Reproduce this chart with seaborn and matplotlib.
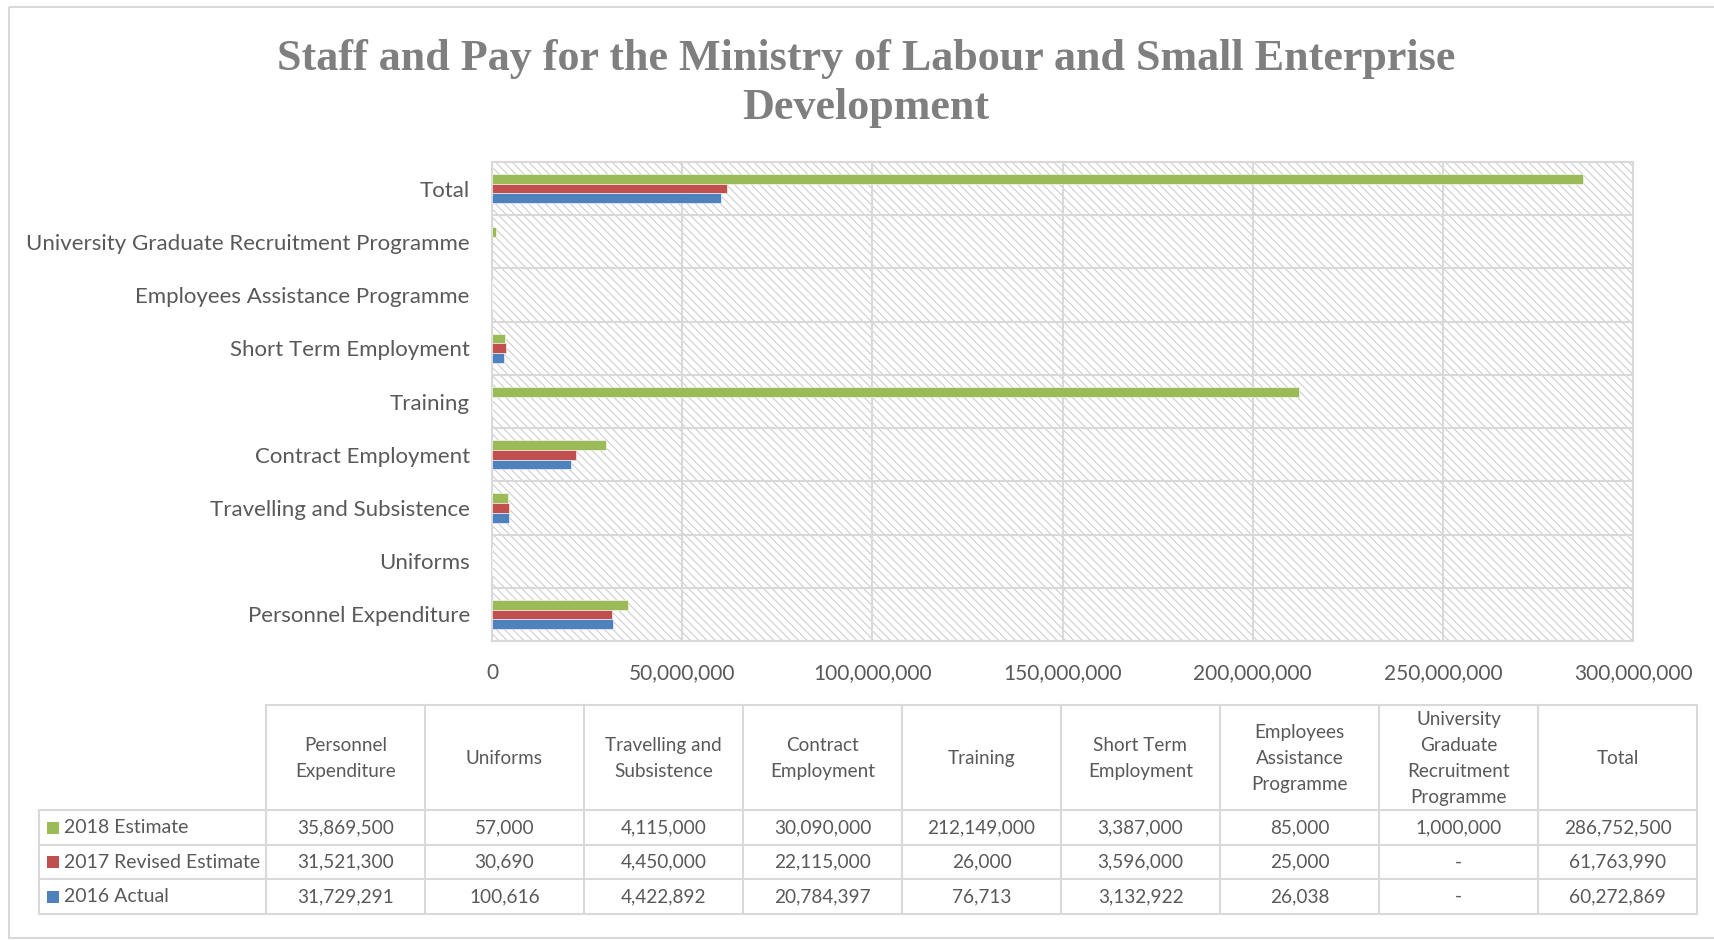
import numpy as np
import pandas as pd
import matplotlib
matplotlib.use("Agg")
import matplotlib.pyplot as plt
from matplotlib.patches import Rectangle
from matplotlib.ticker import FuncFormatter, FixedLocator
import seaborn as sns

# ---------------- data ----------------
categories = ["Personnel Expenditure", "Uniforms", "Travelling and Subsistence",
              "Contract Employment", "Training", "Short Term Employment",
              "Employees Assistance Programme",
              "University Graduate Recruitment Programme", "Total"]
table_headers = ["Personnel\nExpenditure", "Uniforms", "Travelling and\nSubsistence",
                 "Contract\nEmployment", "Training", "Short Term\nEmployment",
                 "Employees\nAssistance\nProgramme",
                 "University\nGraduate\nRecruitment\nProgramme", "Total"]
series = ["2018 Estimate", "2017 Revised Estimate", "2016 Actual"]
est_2018 = [35869500, 57000, 4115000, 30090000, 212149000, 3387000, 85000, 1000000, 286752500]
rev_2017 = [31521300, 30690, 4450000, 22115000, 26000, 3596000, 25000, np.nan, 61763990]
act_2016 = [31729291, 100616, 4422892, 20784397, 76713, 3132922, 26038, np.nan, 60272869]
colors = ["#9BBB59", "#C0504D", "#4F81BD"]
x_ticks = [0, 50000000, 100000000, 150000000, 200000000, 250000000, 300000000]
title_lines = ["Staff and Pay for the Ministry of Labour and Small Enterprise", "Development"]

values = [est_2018, rev_2017, act_2016]
rows = []
for s, vals in zip(series, values):
    for c, v in zip(categories, vals):
        rows.append({"category": c, "series": s, "value": v})
df = pd.DataFrame(rows)

# ---------------- figure ----------------
W, H = 1714, 940
sns.set_theme(style="white")
plt.rcParams["font.family"] = ["Lato", "DejaVu Sans"]
plt.rcParams["hatch.linewidth"] = 0.7
TXT = "#595959"
GRID = "#d9d9d9"

fig = plt.figure(figsize=(W / 100, H / 100), dpi=100)
fig.patch.set_facecolor("white")

# overlay in pixel coordinates for frame + data table
ax_t = fig.add_axes([0, 0, 1, 1])
ax_t.set_xlim(0, W)
ax_t.set_ylim(H, 0)
ax_t.axis("off")
ax_t.patch.set_alpha(0)

ax_t.add_patch(Rectangle((9, 7), W + 20, 931, fill=False, edgecolor=GRID, lw=1.5))

# main plot
L, R, T, B = 492, 1633, 162, 641
ax = fig.add_axes([L / W, 1 - B / H, (R - L) / W, (B - T) / H])
ax.add_patch(Rectangle((0, 0), 1, 1, transform=ax.transAxes, facecolor="white",
                       edgecolor="#c8c8c8", hatch="\\\\\\\\", lw=0, zorder=0))
sns.barplot(data=df, x="value", y="category", hue="series",
            order=categories[::-1], hue_order=series, palette=colors,
            width=0.55, saturation=1, legend=False, ax=ax, zorder=3,
            edgecolor="white", linewidth=0.4)

ax.set_xlim(0, 300000000)
ax.set_ylim(len(categories) - 0.5, -0.5)
ax.xaxis.set_major_locator(FixedLocator(x_ticks))
ax.xaxis.set_major_formatter(FuncFormatter(lambda v, p: f"{int(v):,}"))
ax.yaxis.set_minor_locator(FixedLocator(np.arange(-0.5, len(categories), 1.0)))
ax.grid(axis="x", which="major", color=GRID, lw=1.5, zorder=1)
ax.grid(axis="y", which="minor", color=GRID, lw=1.5, zorder=1)
ax.grid(axis="y", which="major", visible=False)
ax.set_axisbelow(True)
for sp in ax.spines.values():
    sp.set_color(GRID)
    sp.set_linewidth(1.5)
ax.set_xlabel("")
ax.set_ylabel("")
ax.tick_params(axis="both", which="both", length=0, colors=TXT)
ax.tick_params(axis="x", labelsize=15, pad=16)
ax.tick_params(axis="y", labelsize=16, pad=16)

# title
for i, line in enumerate(title_lines):
    fig.text(866 / W, 1 - (59 + 49 * i) / H, line, ha="center", va="center",
             fontsize=31.8, fontweight="bold", color="#7f7f7f",
             family=["Liberation Serif", "DejaVu Serif"])

# ---------------- data table ----------------
col_x0, col_w = 266, 159
lab_x0 = 39
hdr_top, hdr_bot = 705, 810
row_edges = [810, 845, 879, 914]
ncol = len(categories)
x_end = col_x0 + ncol * col_w

ax_t.plot([col_x0, x_end], [hdr_top, hdr_top], color=GRID, lw=1.5)
for y in row_edges:
    ax_t.plot([lab_x0, x_end], [y, y], color=GRID, lw=1.5)
ax_t.plot([lab_x0, lab_x0], [row_edges[0], row_edges[-1]], color=GRID, lw=1.5)
for k in range(ncol + 1):
    xx = col_x0 + k * col_w
    ax_t.plot([xx, xx], [hdr_top, row_edges[-1]], color=GRID, lw=1.5)

for k, hdr in enumerate(table_headers):
    ax_t.text(col_x0 + (k + 0.5) * col_w, (hdr_top + hdr_bot) / 2 + 1, hdr,
              ha="center", va="center", fontsize=13.6, color=TXT, linespacing=1.62)

for r, (s, vals, col) in enumerate(zip(series, values, colors)):
    yc = (row_edges[r] + row_edges[r + 1]) / 2
    ax_t.add_patch(Rectangle((47, yc - 6), 12, 12, facecolor=col, edgecolor="none"))
    ax_t.text(64, yc, s, ha="left", va="center", fontsize=14, color=TXT)
    for k, v in enumerate(vals):
        txt = "-" if (v is None or (isinstance(v, float) and np.isnan(v))) else f"{int(v):,}"
        ax_t.text(col_x0 + (k + 0.5) * col_w, yc, txt, ha="center", va="center",
                  fontsize=13.7, color=TXT)

fig.savefig("out.png", dpi=100, facecolor="white")
